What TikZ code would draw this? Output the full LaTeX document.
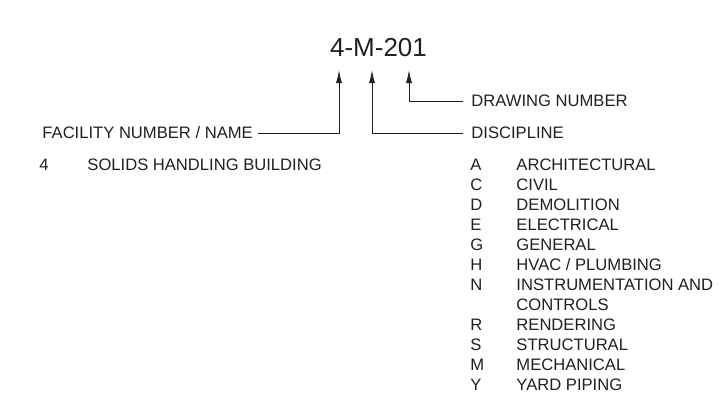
\documentclass[tikz,border=0pt]{standalone}
\usepackage{fontspec}
\setmainfont{Liberation Sans}
\usetikzlibrary{arrows.meta}
\definecolor{ink}{RGB}{35,31,32}

\begin{document}
\begin{tikzpicture}[x=1pt, y=-1pt, line width=0.9pt, color=ink,
	txt/.style={anchor=west, inner sep=0pt, text height=11.9pt, text depth=0pt, font=\fontsize{16.6}{18}\selectfont},
	lead/.style={-{Latex[length=13pt,width=6pt]}}]
	\useasboundingbox (0,0) rectangle (723,402);
	% Drawing number and its parts:
	\node[inner sep=0pt, font=\fontsize{26}{30}\selectfont] (code) at (378.5,47.5){4-M-201};
	\coordinate (facilitytip) at (339,70);
	\coordinate (disciplinetip) at (372,70);
	\coordinate (numbertip) at (409,70);
	\node[txt] (facility) at (42,133){FACILITY NUMBER / NAME};
	\node[txt] (drawing) at (471,101){DRAWING NUMBER};
	\node[txt] (discipline) at (471,133){DISCIPLINE};
	\draw[lead] ([xshift=5pt]facility.east) -| (facilitytip);
	\draw[lead] ([xshift=-8pt]discipline.west) -| (disciplinetip);
	\draw[lead] ([xshift=-8pt]drawing.west) -| (numbertip);
	% Facility list:
	\node[txt] (fac4) at (39,165){4};
	\node[txt] (facname4) at (87,165){SOLIDS HANDLING BUILDING};
	% Discipline list:
	\foreach \r/\l/\n in {0/A/ARCHITECTURAL, 1/C/CIVIL, 2/D/DEMOLITION, 3/E/ELECTRICAL, 4/G/GENERAL, 5/H/{HVAC / PLUMBING}, 6/N/INSTRUMENTATION AND, 8/R/RENDERING, 9/S/STRUCTURAL, 10/M/MECHANICAL, 11/Y/YARD PIPING}{
		\node[txt] (disc\l) at (470,165+\r*20){\l};
		\node[txt] (discname\l) at (516,165+\r*20){\n};
	}
	\node[txt] (discnameN2) at (516,165+7*20){CONTROLS};
\end{tikzpicture}
\end{document}
